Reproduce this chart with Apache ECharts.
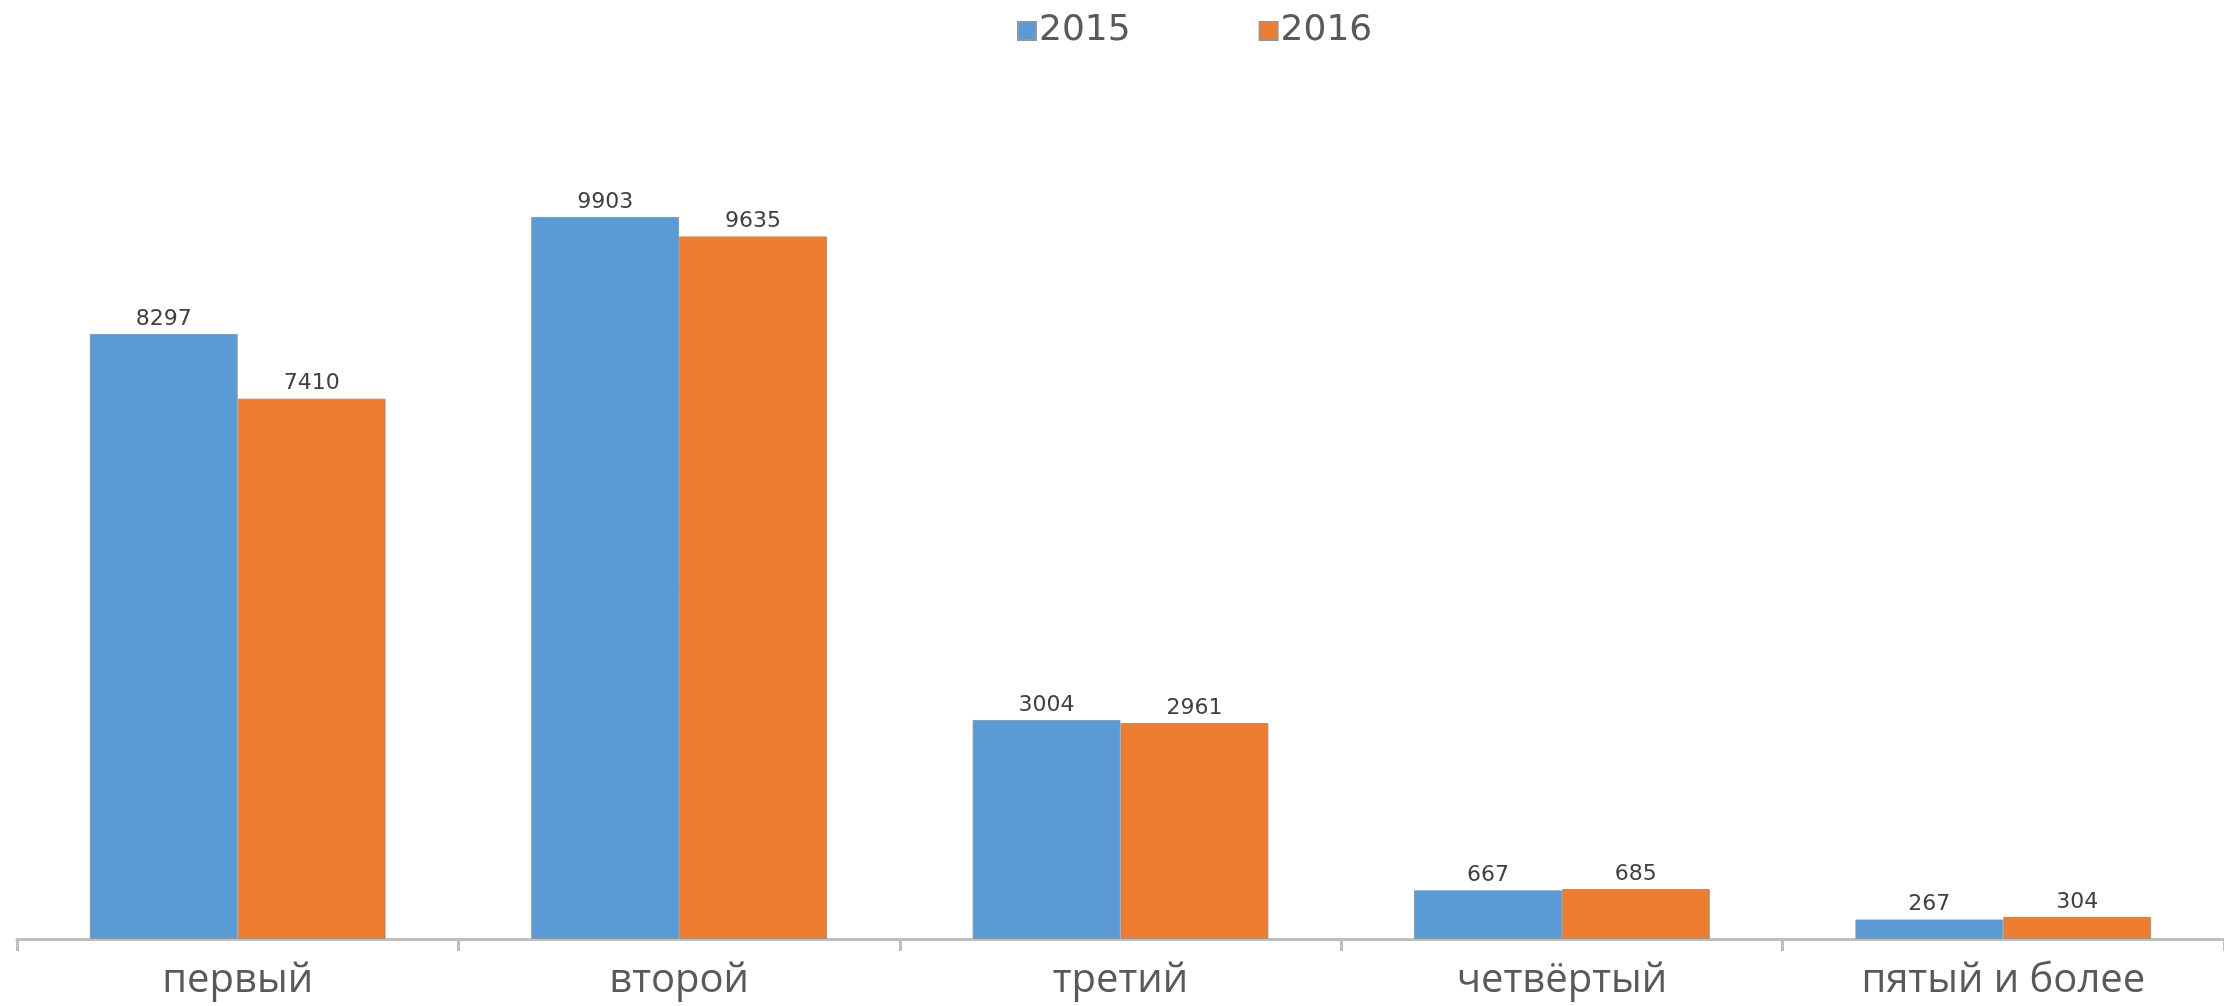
<!DOCTYPE html>
<html>
<head>
<meta charset="utf-8">
<script src="https://cdn.jsdelivr.net/npm/echarts@6/dist/echarts.min.js"></script>
<style>
  html, body { margin: 0; padding: 0; background: #fff; }
  #chart { width: 2224px; height: 1006px; }
</style>
</head>
<body>
<div id="chart"></div>
<script>
const categories = ['первый', 'второй', 'третий', 'четвёртый', 'пятый и более']
const values2015 = [8297, 9903, 3004, 667, 267]
const values2016 = [7410, 9635, 2961, 685, 304]
const seriesNames = ['2015', '2016']

const chart = echarts.init(document.getElementById('chart'))

const labelStyle = {
    show: true,
    position: 'top',
    distance: 4,
    color: '#404040',
    fontSize: 22,
    fontFamily: 'DejaVu Sans'
}

chart.setOption({
    backgroundColor: '#fff',
    animation: false,
    legend: {
        data: seriesNames,
        left: 1012,
        top: 8,
        icon: 'rect',
        itemWidth: 18,
        itemHeight: 18,
        itemGap: 128,
        textStyle: { color: '#595959', fontSize: 36, fontFamily: 'DejaVu Sans', padding: [0, 0, 0, -2] }
    },
    grid: { left: 17, right: 0, top: 64, bottom: 67, containLabel: false },
    xAxis: {
        type: 'category',
        data: categories,
        axisLine: { lineStyle: { color: '#bfbfbf', width: 3 } },
        axisTick: { show: true, interval: 0, length: 12, lineStyle: { color: '#bfbfbf', width: 3 } },
        axisLabel: { color: '#595959', fontSize: 40, margin: 22, fontFamily: 'Open Sans' }
    },
    yAxis: {
        type: 'value',
        min: 0,
        max: 12000,
        show: false,
        splitLine: { show: false }
    },
    series: [
        {
            name: seriesNames[0],
            type: 'bar',
            data: values2015,
            barGap: '0%',
            barCategoryGap: '33%',
            itemStyle: { color: '#5b9bd5', borderColor: '#8a9aa8', borderWidth: 1 },
            label: labelStyle
        },
        {
            name: seriesNames[1],
            type: 'bar',
            data: values2016,
            barGap: '0%',
            barCategoryGap: '33%',
            itemStyle: { color: '#ed7d31', borderColor: '#a88f80', borderWidth: 1 },
            label: labelStyle
        }
    ]
})
</script>
</body>
</html>
